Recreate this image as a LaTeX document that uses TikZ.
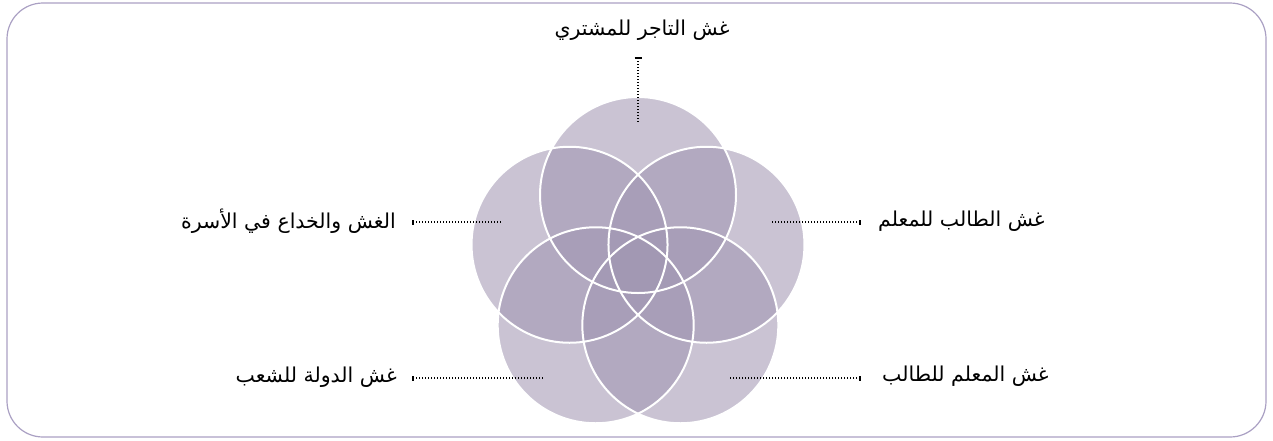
\documentclass[tikz,border=0pt]{standalone}
\usepackage{fontspec}
\newfontfamily\arabicfont[Script=Arabic]{DejaVu Sans}
\TeXXeTstate=1
\definecolor{petal}{RGB}{161,150,178}
\definecolor{framecol}{RGB}{170,160,195}
\begin{document}
\begin{tikzpicture}[x=1pt,y=-1pt,
  lbl/.style={font=\arabicfont\fontsize{20.5}{24}\selectfont, inner sep=0pt},
  leader/.style={line width=1.2pt, dash pattern=on 1.2pt off 1.8pt, black},
  tick/.style={line width=1.1pt, black},
  petalfill/.style={fill=petal, fill opacity=0.57},
  petalline/.style={draw=white, line width=2pt}]
\useasboundingbox (0,0) rectangle (1273,440);
\draw[framecol, line width=1.2pt, rounded corners=36pt] (7,3) rectangle (1266,437);
\coordinate (c) at (638,267);
\foreach \a in {90,162,234,306,18}
  \fill[petalfill] (c) ++(-\a:72) circle (98);
\foreach \a in {90,162,234,306,18}
  \draw[petalline] (c) ++(-\a:72) circle (98);
% labels
\node[lbl] (t1) at (642,30) {\beginR غش التاجر للمشتري\endR};
\node[lbl, anchor=east] (t2) at (396,221) {\beginR الغش والخداع في الأسرة\endR};
\node[lbl, anchor=west] (t3) at (878,221) {\beginR غش الطالب للمعلم\endR};
\node[lbl, anchor=east] (t4) at (397,377) {\beginR غش الدولة للشعب\endR};
\node[lbl, anchor=west] (t5) at (882,376) {\beginR غش المعلم للطالب\endR};
% leader ends
\coordinate (a1) at (638,58);  \coordinate (b1) at (638,122);
\coordinate (a2) at (413,222); \coordinate (b2) at (502,222);
\coordinate (a3) at (860,222); \coordinate (b3) at (772,222);
\coordinate (a4) at (413,378); \coordinate (b4) at (543,378);
\coordinate (a5) at (860,378); \coordinate (b5) at (730,378);
\draw[leader] (a1) -- (b1);
\draw[tick] ([xshift=-3.5pt]a1) -- ([xshift=3.5pt]a1);
\foreach \i in {2,3,4,5}{
  \draw[leader] (a\i) -- (b\i);
  \draw[tick] ([yshift=-2.5pt]a\i) -- ([yshift=2.5pt]a\i);
}
\end{tikzpicture}
\end{document}
